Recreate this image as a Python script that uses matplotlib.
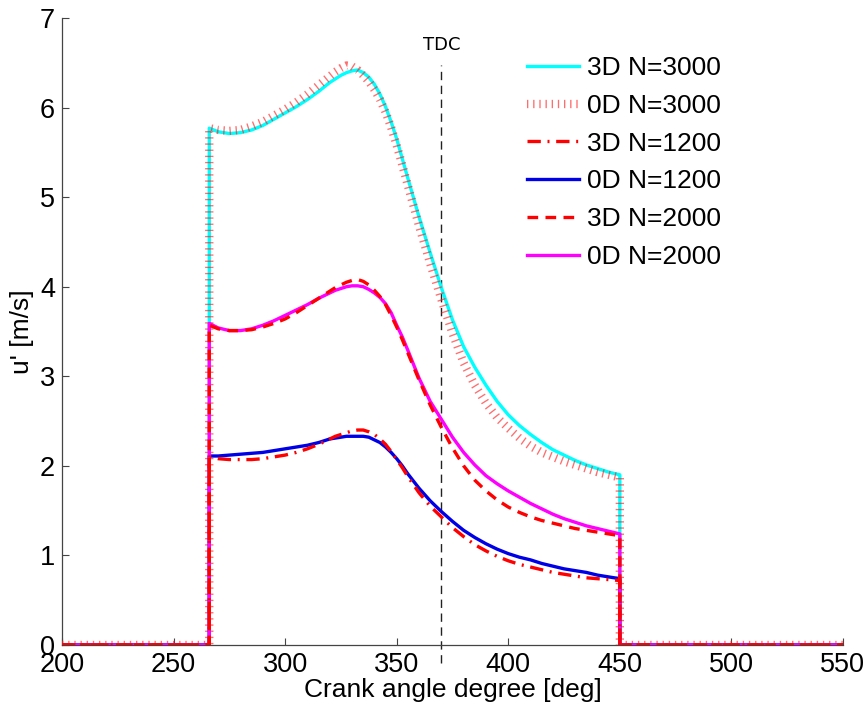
import matplotlib.pyplot as plt
import numpy as np

plt.rcParams['font.family'] = ['Liberation Sans', 'DejaVu Sans']

# crank angle grid inside the valve-closed window (deg), finer around the peak
ca = [266, 270, 275, 280, 285, 290, 295, 300, 305, 310, 315,
      320, 322.5, 325, 327.5, 330, 332.5, 335, 337.5, 340, 342.5, 345, 347.5,
      350, 352.5, 355,
      360, 365, 370, 375, 380, 385, 390, 395, 400,
      405, 410, 415, 420, 425, 430, 435, 440, 445, 450]

u_3d_3000 = [5.77, 5.73, 5.71, 5.72, 5.75, 5.80, 5.87, 5.94, 6.01, 6.09, 6.18,
             6.28, 6.32, 6.36, 6.39, 6.41, 6.42, 6.39, 6.34, 6.26, 6.15, 6.01, 5.84,
             5.65, 5.43, 5.21,
             4.78, 4.38, 3.99, 3.63, 3.33, 3.10, 2.90, 2.72, 2.57,
             2.45, 2.35, 2.26, 2.18, 2.12, 2.06, 2.01, 1.97, 1.93, 1.90]
u_0d_3000 = [5.77, 5.75, 5.74, 5.75, 5.79, 5.84, 5.91, 5.98, 6.06, 6.15, 6.25,
             6.35, 6.40, 6.44, 6.47, 6.46, 6.42, 6.36, 6.29, 6.20, 6.09, 5.95, 5.78,
             5.58, 5.36, 5.13,
             4.68, 4.26, 3.86, 3.48, 3.15, 2.90, 2.70, 2.54, 2.42,
             2.31, 2.22, 2.15, 2.10, 2.05, 2.01, 1.97, 1.93, 1.90, 1.87]
u_3d_1200 = [2.10, 2.08, 2.07, 2.07, 2.07, 2.08, 2.10, 2.12, 2.15, 2.19, 2.24,
             2.30, 2.33, 2.35, 2.37, 2.39, 2.40, 2.40, 2.38, 2.35, 2.30, 2.24, 2.16,
             2.07, 1.98, 1.88,
             1.70, 1.55, 1.43, 1.31, 1.21, 1.12, 1.05, 0.99, 0.94,
             0.90, 0.87, 0.84, 0.81, 0.79, 0.77, 0.75, 0.74, 0.73, 0.72]
u_0d_1200 = [2.11, 2.11, 2.12, 2.13, 2.14, 2.15, 2.17, 2.19, 2.21, 2.23, 2.26,
             2.30, 2.31, 2.32, 2.33, 2.33, 2.33, 2.33, 2.32, 2.29, 2.26, 2.21, 2.15,
             2.08, 2.00, 1.91,
             1.75, 1.61, 1.49, 1.38, 1.28, 1.20, 1.13, 1.07, 1.02,
             0.98, 0.95, 0.91, 0.88, 0.85, 0.83, 0.81, 0.78, 0.76, 0.74]
u_3d_2000 = [3.57, 3.53, 3.51, 3.51, 3.52, 3.55, 3.59, 3.64, 3.71, 3.79, 3.87,
             3.95, 3.99, 4.02, 4.05, 4.07, 4.08, 4.06, 4.02, 3.96, 3.89, 3.80, 3.68,
             3.55, 3.41, 3.26,
             2.96, 2.68, 2.43, 2.20, 2.00, 1.84, 1.72, 1.62, 1.54,
             1.48, 1.43, 1.39, 1.36, 1.33, 1.30, 1.28, 1.26, 1.24, 1.22]
u_0d_2000 = [3.59, 3.54, 3.51, 3.51, 3.53, 3.57, 3.62, 3.68, 3.74, 3.80, 3.87,
             3.93, 3.96, 3.98, 4.00, 4.01, 4.01, 4.00, 3.97, 3.93, 3.88, 3.81, 3.71,
             3.57, 3.44, 3.29,
             2.98, 2.72, 2.52, 2.32, 2.15, 2.01, 1.89, 1.80, 1.72,
             1.65, 1.58, 1.52, 1.46, 1.41, 1.37, 1.33, 1.30, 1.27, 1.24]

ca_start, ca_end = 200, 550
tdc = 370


def full_cycle(u):
    # zero outside the window, vertical steps at both ends
    x = [ca_start, ca[0]] + ca + [ca[-1], ca_end]
    y = [0, 0] + u + [0, 0]
    return x, y


fig = plt.figure(figsize=(8.66, 7.09), dpi=100)
ax = fig.add_axes([0.0716, 0.0903, 0.9018, 0.8843])

x, y = full_cycle(u_3d_3000)
ax.plot(x, y, color='cyan', lw=2.4, label='3D N=3000', zorder=2)
x, y = full_cycle(u_0d_3000)
ax.plot(x, y, color='#ff2020', alpha=0.65, lw=6, solid_capstyle='butt',
        dash_capstyle='butt', linestyle=(0, (0.16, 0.58)), label='0D N=3000', zorder=3)
x, y = full_cycle(u_3d_1200)
ax.plot(x, y, color='red', lw=2.4, linestyle=(0, (4, 2, 0.6, 2)), label='3D N=1200', zorder=5)
x, y = full_cycle(u_0d_1200)
ax.plot(x, y, color='#0000e6', lw=2.4, label='0D N=1200', zorder=4)
x, y = full_cycle(u_0d_2000)
ax.plot(x, y, color='magenta', lw=2.4, label='0D N=2000', zorder=4)
x, y = full_cycle(u_3d_2000)
ax.plot(x, y, color='red', lw=2.4, linestyle=(0, (3.2, 2.2)), label='3D N=2000', zorder=6)

# top dead centre marker
ax.plot([tdc, tdc], [-0.2, 6.47], color='#222222', lw=1, linestyle=(0, (6, 4)),
        clip_on=False, zorder=1)
ax.text(tdc, 6.6, 'TDC', family='DejaVu Sans', fontsize=13, ha='center', va='bottom')

ax.set_xlim(ca_start, ca_end)
ax.set_ylim(0, 7)
ax.set_xticks(np.arange(200, 551, 50))
ax.set_yticks(np.arange(0, 8, 1))
ax.set_xlabel('Crank angle degree [deg]', fontsize=19, labelpad=0)
ax.set_ylabel("u' [m/s]", fontsize=19, labelpad=4)

for side in ['top', 'right']:
    ax.spines[side].set_visible(False)
for side in ['left', 'bottom']:
    ax.spines[side].set_color('#444444')
    ax.spines[side].set_linewidth(0.9)
ax.tick_params(direction='in', length=5, width=0.8, color='#444444',
               labelsize=19.5, pad=5)

handles, labels = ax.get_legend_handles_labels()
order = ['3D N=3000', '0D N=3000', '3D N=1200', '0D N=1200', '3D N=2000', '0D N=2000']
hmap = dict(zip(labels, handles))
ax.legend([hmap[k] for k in order], order, loc='upper left',
          bbox_to_anchor=(0.578, 0.96), frameon=False, fontsize=19,
          handlelength=2.0, handletextpad=0.3, labelspacing=0.52, borderpad=0)

fig.savefig('out.png', dpi=100)
